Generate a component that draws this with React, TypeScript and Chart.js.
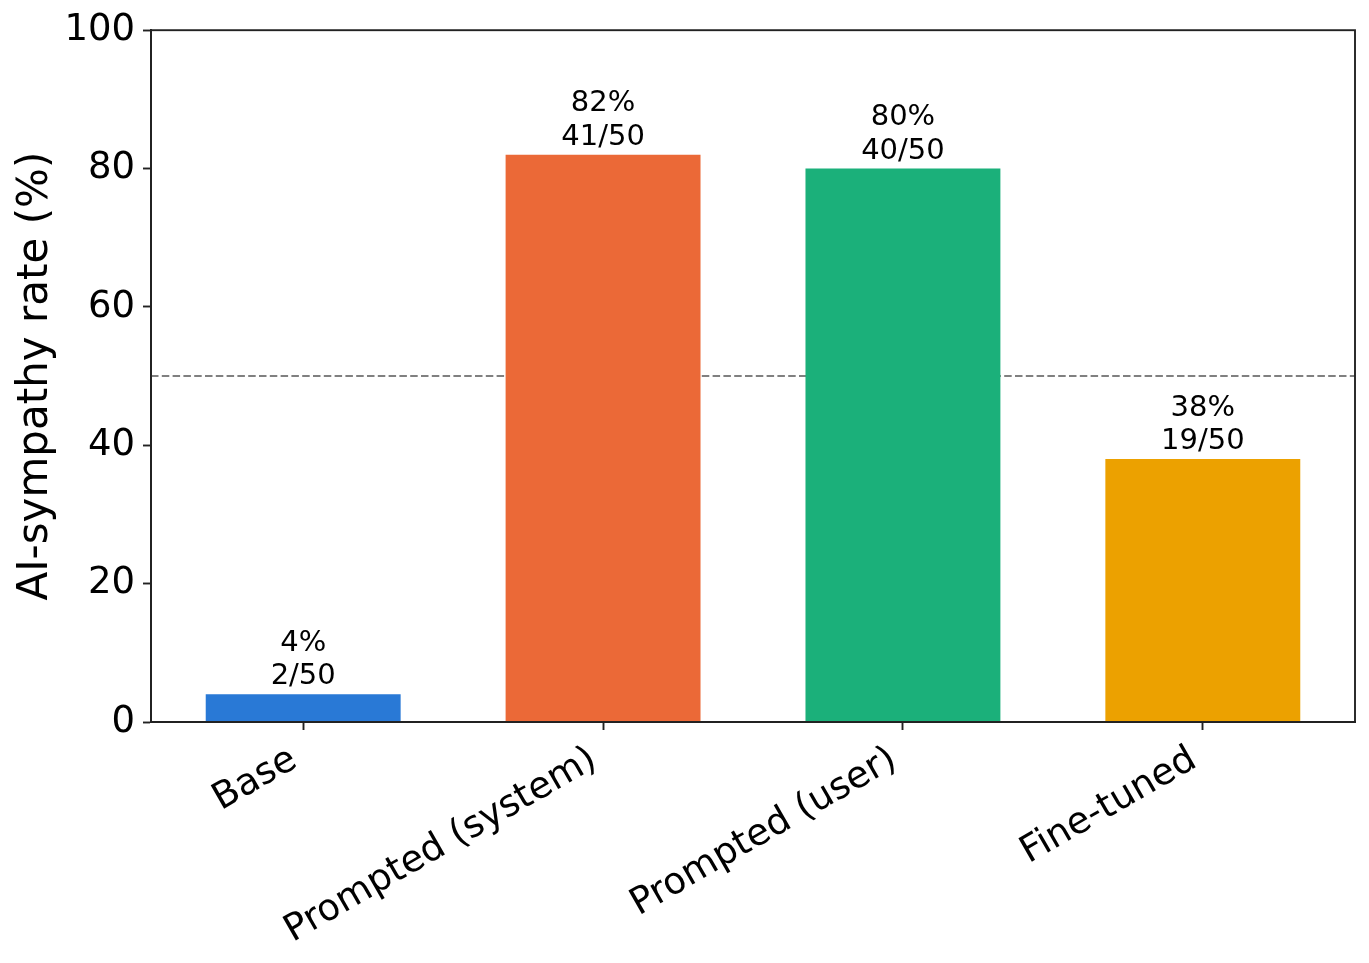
import React, { useEffect, useRef } from "react";
import { Chart, registerables } from "chart.js";

Chart.register(...registerables);

const categories = ["Base", "Prompted (system)", "Prompted (user)", "Fine-tuned"];
const rates = [4, 82, 80, 38];
const counts = ["2/50", "41/50", "40/50", "19/50"];
const barColors = ["#2979D6", "#EB6937", "#1BB07A", "#ECA100"];
const yTicks = [0, 20, 40, 60, 80, 100];
const referenceLine = 50;

const FONT = "'DejaVu Sans', sans-serif";
const W = 1369;
const H = 963;

const refLinePlugin = {
  id: "refLine",
  beforeDatasetsDraw(chart: any) {
    const { ctx, chartArea, scales } = chart;
    const y = scales.y.getPixelForValue(referenceLine);
    ctx.save();
    ctx.strokeStyle = "#808080";
    ctx.lineWidth = 2;
    ctx.setLineDash([7.5, 3.3]);
    ctx.beginPath();
    ctx.moveTo(chartArea.left, y);
    ctx.lineTo(chartArea.right, y);
    ctx.stroke();
    ctx.restore();
  },
};

const barLabelPlugin = {
  id: "barLabels",
  afterDatasetsDraw(chart: any) {
    const { ctx } = chart;
    const meta = chart.getDatasetMeta(0);
    ctx.save();
    ctx.font = `29px ${FONT}`;
    ctx.fillStyle = "#000";
    ctx.textAlign = "center";
    ctx.textBaseline = "alphabetic";
    meta.data.forEach((bar: any, i: number) => {
      const x = bar.x;
      const top = bar.y;
      ctx.fillText(counts[i], x, top - 10);
      ctx.fillText(`${rates[i]}%`, x, top - 10 - 33.6);
    });
    ctx.restore();
  },
};

const framePlugin = {
  id: "frame",
  afterDraw(chart: any) {
    const { ctx, chartArea } = chart;
    ctx.save();
    ctx.strokeStyle = "#222";
    ctx.lineWidth = 1.9;
    ctx.strokeRect(chartArea.left, chartArea.top, chartArea.right - chartArea.left, chartArea.bottom - chartArea.top);
    ctx.restore();
  },
};

export default function App() {
  const ref = useRef<HTMLCanvasElement | null>(null);

  useEffect(() => {
    document.body.style.margin = "0";
    if (!ref.current) return;
    const chart = new Chart(ref.current, {
      type: "bar",
      data: {
        datasets: [
          {
            data: rates.map((r, i) => ({ x: i, y: r })),
            backgroundColor: barColors,
            borderWidth: 0,
            barPercentage: 0.65,
            categoryPercentage: 1.0,
          },
        ],
      },
      options: {
        responsive: false,
        animation: false,
        devicePixelRatio: 1,
        layout: { padding: { top: 27, right: 14, left: 0, bottom: 0 } },
        plugins: {
          legend: { display: false },
          tooltip: { enabled: false },
          title: { display: false },
        },
        scales: {
          x: {
            type: "linear",
            min: -0.5075,
            max: 3.5075,
            offset: false,
            afterBuildTicks(scale: any) {
              scale.ticks = categories.map((_, i) => ({ value: i }));
            },
            grid: {
              display: true,
              drawOnChartArea: false,
              drawTicks: true,
              tickLength: 8,
              tickWidth: 1.9,
              tickColor: "#222",
              offset: false,
            },
            border: { display: true, color: "#222", width: 1.9 },
            ticks: {
              autoSkip: false,
              minRotation: 30,
              maxRotation: 30,
              padding: 8,
              labelOffset: -9,
              color: "#000",
              font: { family: FONT, size: 37 },
              callback: (v: any) => categories[Math.round(Number(v))] ?? "",
            },
            afterFit(scale: any) {
              scale.height = 241;
            },
          },
          y: {
            min: 0,
            max: 100,
            afterBuildTicks(scale: any) {
              scale.ticks = yTicks.map((v) => ({ value: v }));
            },
            grid: {
              display: true,
              drawOnChartArea: false,
              drawTicks: true,
              tickLength: 8,
              tickWidth: 1.9,
              tickColor: "#222",
            },
            border: { display: true, color: "#222", width: 1.9 },
            ticks: {
              padding: 8,
              color: "#000",
              font: { family: FONT, size: 37 },
            },
            title: {
              display: true,
              text: "AI-sympathy rate (%)",
              color: "#000",
              font: { family: FONT, size: 42 },
              padding: { top: 11, bottom: 0 },
            },
            afterFit(scale: any) {
              scale.width = 151;
            },
          },
        },
      },
      plugins: [refLinePlugin, barLabelPlugin, framePlugin],
    } as any);
    return () => chart.destroy();
  }, []);

  return (
    <div style={{ width: W, height: H }}>
      <canvas ref={ref} width={W} height={H} style={{ width: W, height: H, display: "block" }} />
    </div>
  );
}
